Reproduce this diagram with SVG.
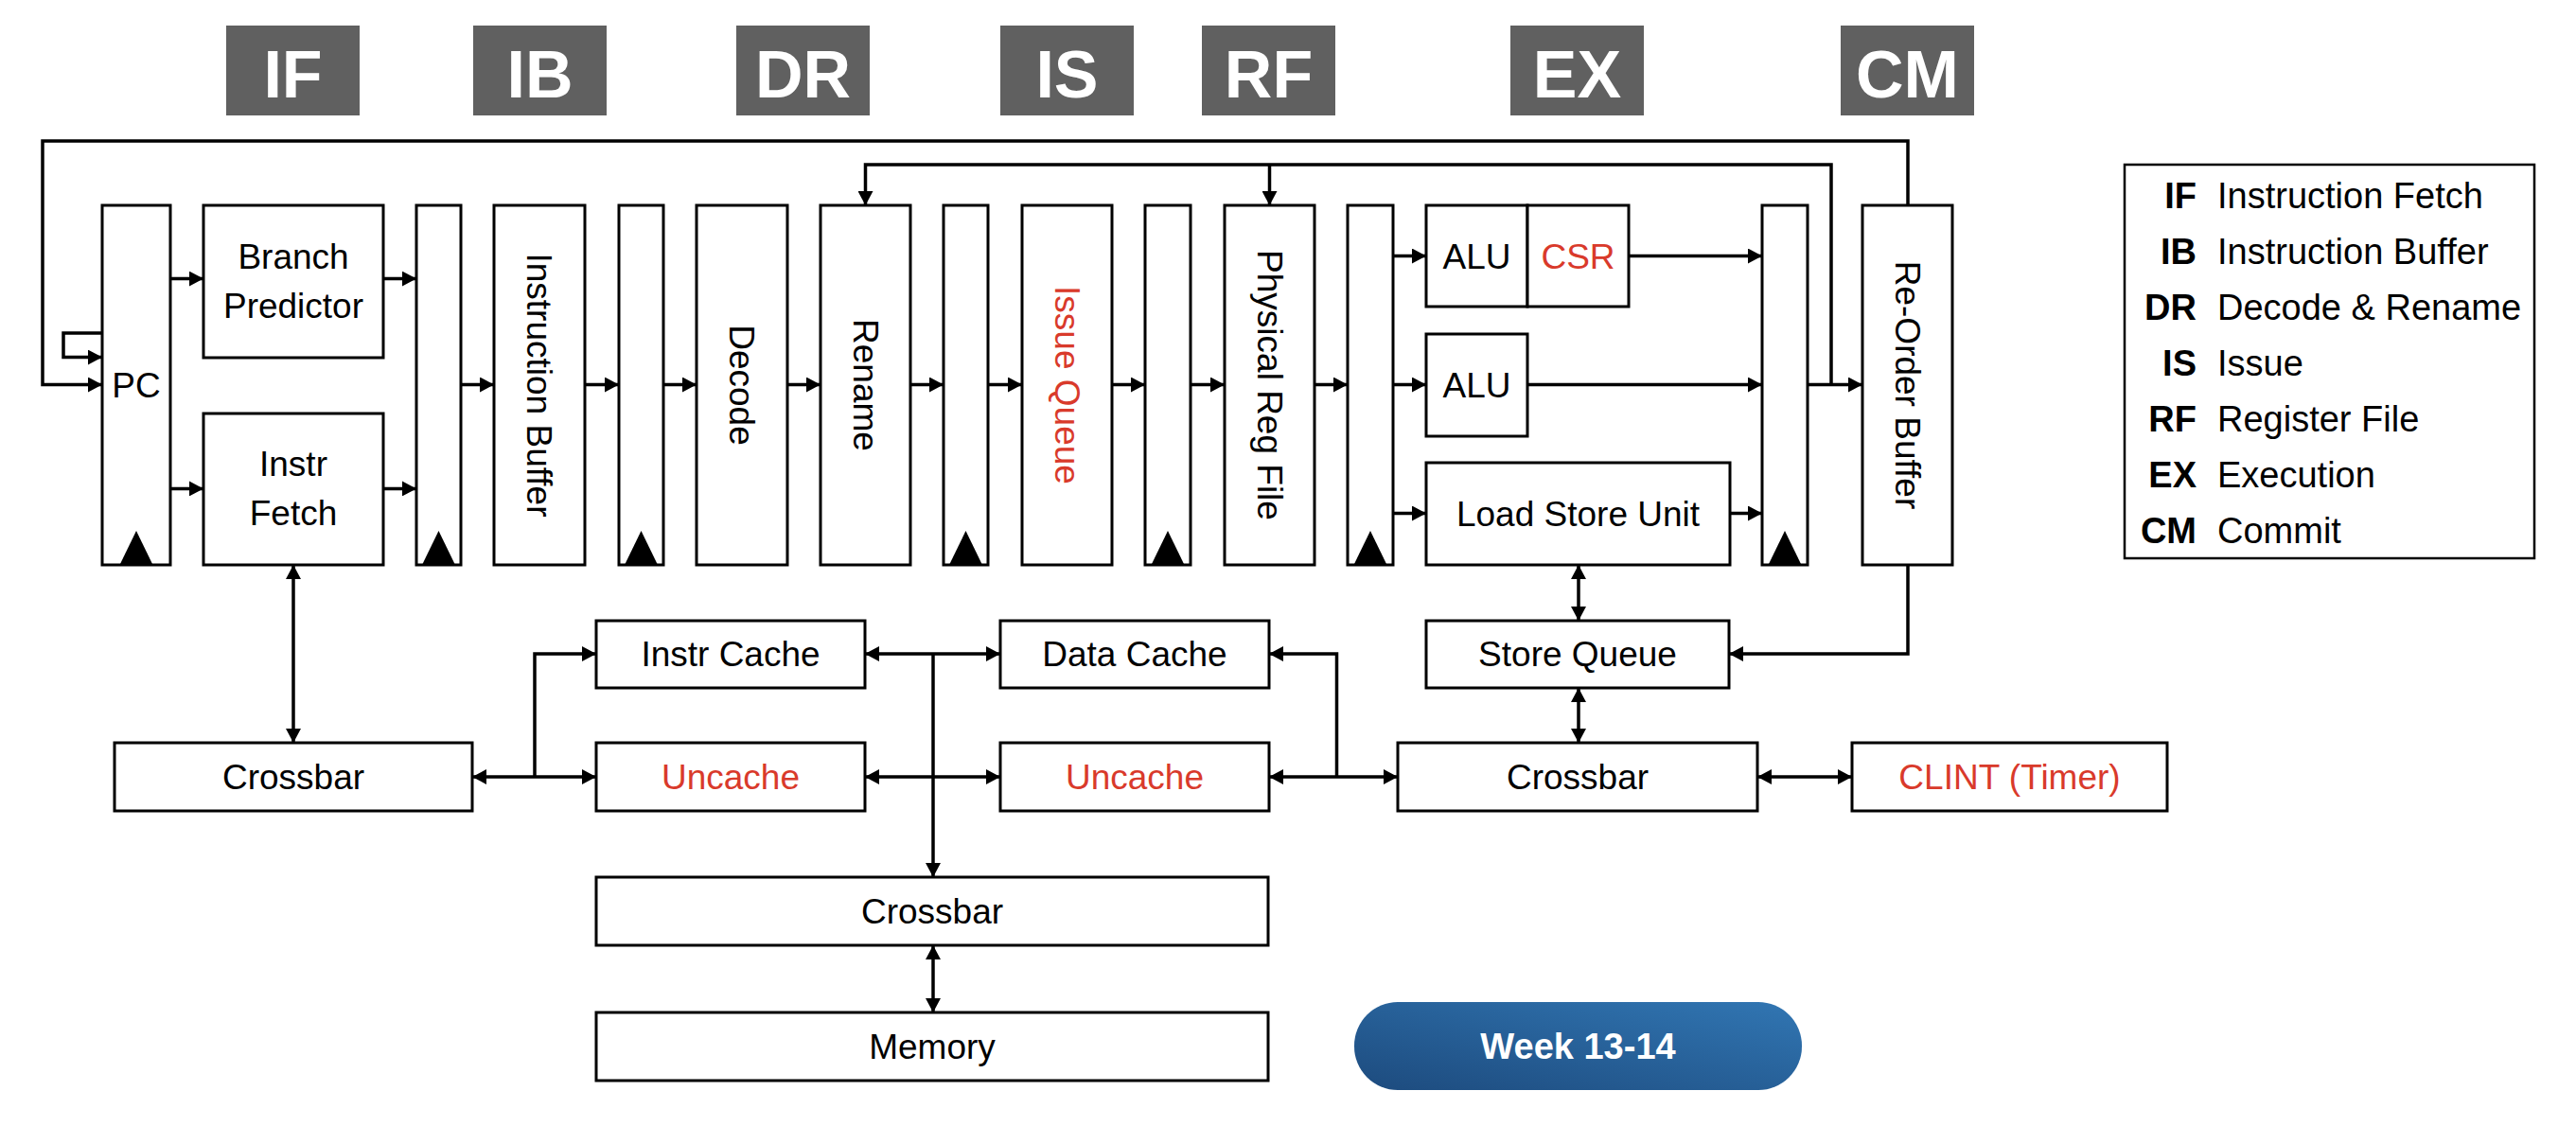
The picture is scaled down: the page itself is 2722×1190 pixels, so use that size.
<svg xmlns="http://www.w3.org/2000/svg" width="2722" height="1190" viewBox="0 0 2722 1190">
<defs>
<marker id="ah" viewBox="0 0 15 16" refX="15" refY="8" markerWidth="15" markerHeight="16" markerUnits="userSpaceOnUse" orient="auto-start-reverse">
<path d="M0,0 L15,8 L0,16 z" fill="#000"/>
</marker>
<linearGradient id="pill" x1="0" y1="1" x2="1" y2="0">
<stop offset="0" stop-color="#1d4b7e"/>
<stop offset="1" stop-color="#3176b3"/>
</linearGradient>
<style>
.box{fill:#fff;stroke:#000;stroke-width:3}
.stg{fill:#606060}
.stgt{font-family:"Liberation Sans",Arial,sans-serif;font-weight:bold;font-size:70px;fill:#fff;text-anchor:middle}
.t{font-family:"Liberation Sans",Arial,sans-serif;font-size:37px;fill:#000;text-anchor:middle}
.red{fill:#d93a2b}
.clk{fill:#000}
.ln{fill:none;stroke:#000;stroke-width:3.5}
.lg{font-family:"Liberation Sans",Arial,sans-serif;font-size:38px;fill:#000}
.lgb{font-weight:bold;text-anchor:end}
.pt{font-family:"Liberation Sans",Arial,sans-serif;font-weight:bold;font-size:38px;fill:#fff;text-anchor:middle}
</style>
</defs>
<rect width="2722" height="1190" fill="#fff"/>

<g id="stages">
<rect class="stg" x="239" y="27" width="141" height="95"/><text class="stgt" x="309.5" y="103">IF</text>
<rect class="stg" x="500" y="27" width="141" height="95"/><text class="stgt" x="570.5" y="103">IB</text>
<rect class="stg" x="778" y="27" width="141" height="95"/><text class="stgt" x="848.5" y="103">DR</text>
<rect class="stg" x="1057" y="27" width="141" height="95"/><text class="stgt" x="1127.5" y="103">IS</text>
<rect class="stg" x="1270" y="27" width="141" height="95"/><text class="stgt" x="1340.5" y="103">RF</text>
<rect class="stg" x="1596" y="27" width="141" height="95"/><text class="stgt" x="1666.5" y="103">EX</text>
<rect class="stg" x="1945" y="27" width="141" height="95"/><text class="stgt" x="2015.5" y="103">CM</text>
</g>

<g id="connectors">
<path class="ln" d="M2016,217 V149 H45 V406.5 H108" marker-end="url(#ah)"/>
<path class="ln" d="M108,352 H67 V377.6 H108" marker-end="url(#ah)"/>
<path class="ln" d="M1935,406.5 V174 H914.5 V217" marker-end="url(#ah)"/>
<path class="ln" d="M1341.5,174 V217" marker-end="url(#ah)"/>
<path class="ln" d="M180,294.6 H215" marker-end="url(#ah)"/>
<path class="ln" d="M180,516.4 H215" marker-end="url(#ah)"/>
<path class="ln" d="M405,294.6 H440" marker-end="url(#ah)"/>
<path class="ln" d="M405,516.4 H440" marker-end="url(#ah)"/>
<path class="ln" d="M487,406.5 H522" marker-end="url(#ah)"/>
<path class="ln" d="M618,406.5 H654" marker-end="url(#ah)"/>
<path class="ln" d="M701,406.5 H736" marker-end="url(#ah)"/>
<path class="ln" d="M832,406.5 H867" marker-end="url(#ah)"/>
<path class="ln" d="M962,406.5 H997" marker-end="url(#ah)"/>
<path class="ln" d="M1044,406.5 H1080" marker-end="url(#ah)"/>
<path class="ln" d="M1175,406.5 H1210" marker-end="url(#ah)"/>
<path class="ln" d="M1258,406.5 H1294" marker-end="url(#ah)"/>
<path class="ln" d="M1389,406.5 H1424" marker-end="url(#ah)"/>
<path class="ln" d="M1472,270.5 H1507" marker-end="url(#ah)"/>
<path class="ln" d="M1472,406.5 H1507" marker-end="url(#ah)"/>
<path class="ln" d="M1472,542.5 H1507" marker-end="url(#ah)"/>
<path class="ln" d="M1721,270.5 H1862" marker-end="url(#ah)"/>
<path class="ln" d="M1614,406.5 H1862" marker-end="url(#ah)"/>
<path class="ln" d="M1828,542.5 H1862" marker-end="url(#ah)"/>
<path class="ln" d="M1910,406.5 H1968" marker-end="url(#ah)"/>
<path class="ln" d="M310,597 V785" marker-start="url(#ah)" marker-end="url(#ah)"/>
<path class="ln" d="M499,821 H630" marker-start="url(#ah)" marker-end="url(#ah)"/>
<path class="ln" d="M565,821 V691 H630" marker-end="url(#ah)"/>
<path class="ln" d="M914,691 H1057" marker-start="url(#ah)" marker-end="url(#ah)"/>
<path class="ln" d="M914,821 H1057" marker-start="url(#ah)" marker-end="url(#ah)"/>
<path class="ln" d="M986,691 V927" marker-end="url(#ah)"/>
<path class="ln" d="M986,999 V1070" marker-start="url(#ah)" marker-end="url(#ah)"/>
<path class="ln" d="M1341,821 H1477" marker-start="url(#ah)" marker-end="url(#ah)"/>
<path class="ln" d="M1412.5,821 V691 H1341" marker-end="url(#ah)"/>
<path class="ln" d="M1668,597 V656" marker-start="url(#ah)" marker-end="url(#ah)"/>
<path class="ln" d="M1668,727 V785" marker-start="url(#ah)" marker-end="url(#ah)"/>
<path class="ln" d="M2016,597 V691 H1827" marker-end="url(#ah)"/>
<path class="ln" d="M1857,821 H1957" marker-start="url(#ah)" marker-end="url(#ah)"/>
</g>

<g id="pc"><rect class="box" x="108" y="217" width="72" height="380"/><text class="t" x="144" y="420">PC</text><path class="clk" d="M127,596 L144,561 L161,596 z"/></g>
<g id="branch-predictor"><rect class="box" x="215" y="217" width="190" height="161"/><text class="t" x="310" y="284">Branch</text><text class="t" x="310" y="336">Predictor</text></g>
<g id="instr-fetch"><rect class="box" x="215" y="437" width="190" height="160"/><text class="t" x="310" y="503">Instr</text><text class="t" x="310" y="555">Fetch</text></g>
<g id="reg1"><rect class="box" x="440" y="217" width="47" height="380"/><path class="clk" d="M446.5,596 L463.5,561 L480.5,596 z"/></g>
<g id="instruction-buffer"><rect class="box" x="522" y="217" width="96" height="380"/><text class="t" x="570" y="420" transform="rotate(90 570 407)">Instruction Buffer</text></g>
<g id="reg2"><rect class="box" x="654" y="217" width="47" height="380"/><path class="clk" d="M660.5,596 L677.5,561 L694.5,596 z"/></g>
<g id="decode"><rect class="box" x="736" y="217" width="96" height="380"/><text class="t" x="784" y="420" transform="rotate(90 784 407)">Decode</text></g>
<g id="rename"><rect class="box" x="867" y="217" width="95" height="380"/><text class="t" x="914.5" y="420" transform="rotate(90 914.5 407)">Rename</text></g>
<g id="reg3"><rect class="box" x="997" y="217" width="47" height="380"/><path class="clk" d="M1003.5,596 L1020.5,561 L1037.5,596 z"/></g>
<g id="issue-queue"><rect class="box" x="1080" y="217" width="95" height="380"/><text class="t red" x="1127.5" y="420" transform="rotate(90 1127.5 407)">Issue Queue</text></g>
<g id="reg4"><rect class="box" x="1210" y="217" width="48" height="380"/><path class="clk" d="M1217,596 L1234,561 L1251,596 z"/></g>
<g id="physical-reg-file"><rect class="box" x="1294" y="217" width="95" height="380"/><text class="t" x="1341.5" y="420" transform="rotate(90 1341.5 407)">Physical Reg File</text></g>
<g id="reg5"><rect class="box" x="1424" y="217" width="48" height="380"/><path class="clk" d="M1431,596 L1448,561 L1465,596 z"/></g>
<g id="alu-csr"><rect class="box" x="1507" y="217" width="107" height="107"/><rect class="box" x="1614" y="217" width="107" height="107"/><text class="t" x="1560.5" y="283.5">ALU</text><text class="t red" x="1667.5" y="283.5">CSR</text></g>
<g id="alu"><rect class="box" x="1507" y="353" width="107" height="108"/><text class="t" x="1560.5" y="419.5">ALU</text></g>
<g id="lsu"><rect class="box" x="1507" y="489" width="321" height="108"/><text class="t" x="1667.5" y="555.5">Load Store Unit</text></g>
<g id="reg6"><rect class="box" x="1862" y="217" width="48" height="380"/><path class="clk" d="M1869,596 L1886,561 L1903,596 z"/></g>
<g id="rob"><rect class="box" x="1968" y="217" width="95" height="380"/><text class="t" x="2015.5" y="420" transform="rotate(90 2015.5 407)">Re-Order Buffer</text></g>

<g id="instr-cache"><rect class="box" x="630" y="656" width="284" height="71"/><text class="t" x="772" y="704">Instr Cache</text></g>
<g id="data-cache"><rect class="box" x="1057" y="656" width="284" height="71"/><text class="t" x="1199" y="704">Data Cache</text></g>
<g id="store-queue"><rect class="box" x="1507" y="656" width="320" height="71"/><text class="t" x="1667" y="704">Store Queue</text></g>
<g id="crossbar-left"><rect class="box" x="121" y="785" width="378" height="72"/><text class="t" x="310" y="834">Crossbar</text></g>
<g id="uncache-left"><rect class="box" x="630" y="785" width="284" height="72"/><text class="t red" x="772" y="834">Uncache</text></g>
<g id="uncache-right"><rect class="box" x="1057" y="785" width="284" height="72"/><text class="t red" x="1199" y="834">Uncache</text></g>
<g id="crossbar-right"><rect class="box" x="1477" y="785" width="380" height="72"/><text class="t" x="1667" y="834">Crossbar</text></g>
<g id="clint"><rect class="box" x="1957" y="785" width="333" height="72"/><text class="t red" x="2123.5" y="834">CLINT (Timer)</text></g>
<g id="crossbar-bottom"><rect class="box" x="630" y="927" width="710" height="72"/><text class="t" x="985" y="976">Crossbar</text></g>
<g id="memory"><rect class="box" x="630" y="1070" width="710" height="72"/><text class="t" x="985" y="1119">Memory</text></g>

<g id="week"><rect x="1431" y="1059" width="473" height="93" rx="46" ry="46" fill="url(#pill)"/><text class="pt" x="1667.5" y="1119">Week 13-14</text></g>

<g id="legend">
<rect x="2245" y="174" width="433" height="416" fill="#fff" stroke="#000" stroke-width="2.5"/>
<text class="lg lgb" x="2321" y="220">IF</text><text class="lg" x="2343" y="220">Instruction Fetch</text>
<text class="lg lgb" x="2321" y="279">IB</text><text class="lg" x="2343" y="279">Instruction Buffer</text>
<text class="lg lgb" x="2321" y="338">DR</text><text class="lg" x="2343" y="338">Decode &amp; Rename</text>
<text class="lg lgb" x="2321" y="397">IS</text><text class="lg" x="2343" y="397">Issue</text>
<text class="lg lgb" x="2321" y="456">RF</text><text class="lg" x="2343" y="456">Register File</text>
<text class="lg lgb" x="2321" y="515">EX</text><text class="lg" x="2343" y="515">Execution</text>
<text class="lg lgb" x="2321" y="574">CM</text><text class="lg" x="2343" y="574">Commit</text>
</g>
</svg>
